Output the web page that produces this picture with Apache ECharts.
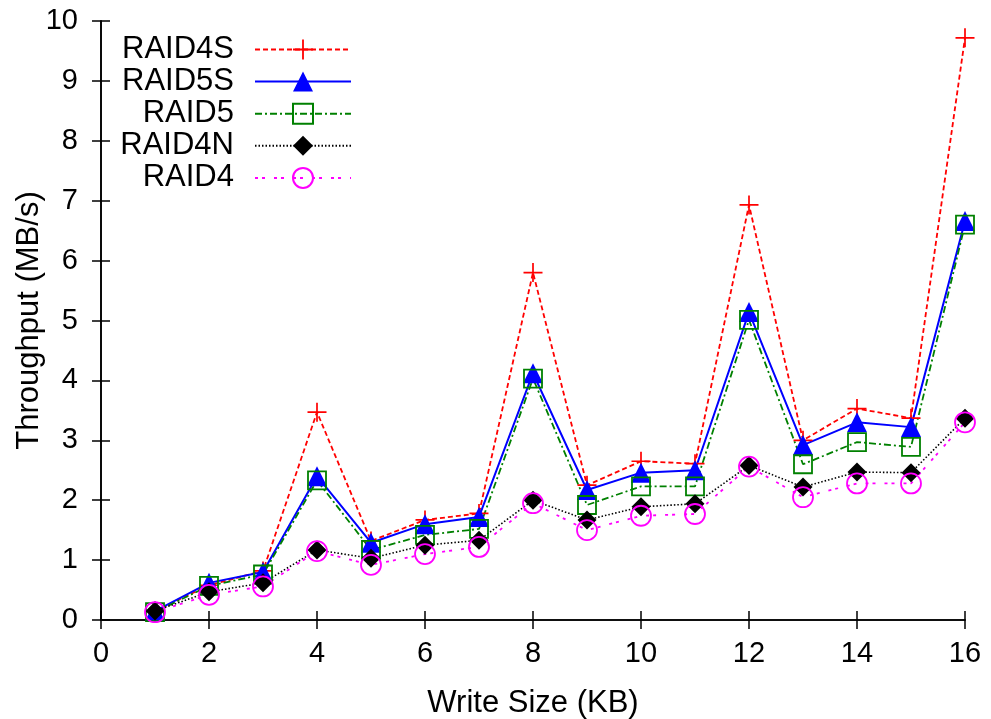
<!DOCTYPE html>
<html><head><meta charset="utf-8">
<script src="https://cdn.jsdelivr.net/npm/echarts@6/dist/echarts.min.js"></script>
<style>html,body{margin:0;padding:0;background:#fff}#c{width:991px;height:719px}</style>
</head><body><div id="c"></div>
<script>
const writeSizes = [1,2,3,4,5,6,7,8,9,10,11,12,13,14,15,16];
const raid4s = [0.15,0.58,0.82,3.47,1.32,1.67,1.78,5.8,2.25,2.65,2.61,6.93,3.0,3.53,3.37,9.72];
const raid5s = [0.15,0.62,0.8,2.4,1.29,1.6,1.72,4.12,2.17,2.46,2.5,5.14,2.92,3.3,3.22,6.66];
const raid5  = [0.13,0.57,0.76,2.33,1.17,1.42,1.52,4.03,1.92,2.23,2.23,5.01,2.6,2.97,2.89,6.6];
const raid4n = [0.15,0.47,0.62,1.17,1.03,1.25,1.33,2.0,1.67,1.89,1.94,2.58,2.22,2.47,2.46,3.37];
const raid4  = [0.13,0.42,0.56,1.15,0.92,1.1,1.22,1.95,1.5,1.74,1.77,2.56,2.05,2.28,2.28,3.3];
const seriesNames = ['RAID4S','RAID5S','RAID5','RAID4N','RAID4'];
const xTicks = [0,2,4,6,8,10,12,14,16];
const yTicks = [0,1,2,3,4,5,6,7,8,9,10];

const pts = arr => writeSizes.map((x,i)=>[x, arr[i]]);
const FONT = 'Liberation Sans, Arial, sans-serif';
const crossPath = 'path://M9.1,0 L10.9,0 L10.9,9.1 L20,9.1 L20,10.9 L10.9,10.9 L10.9,20 L9.1,20 L9.1,10.9 L0,10.9 L0,9.1 L9.1,9.1 Z';

const axisLine = {show:true, lineStyle:{color:'#000', width:1.6}};
const tick = {show:true, inside:true, length:9, lineStyle:{color:'#000', width:1.5}};

const chart = echarts.init(document.getElementById('c'), null, {renderer:'canvas'});
chart.setOption({
  animation:false,
  backgroundColor:'#fff',
  textStyle:{fontFamily:FONT},
  grid:{left:101, right:26, top:21, bottom:99, containLabel:false, outerBoundsMode:'none'},
  legend:{
    orient:'vertical', align:'right', right:639, top:34, padding:0,
    itemWidth:96, itemHeight:25, itemGap:1.1,
    textStyle:{fontSize:31, color:'#000', fontFamily:FONT, padding:[0,16,0,0]},
    data:seriesNames
  },
  xAxis:[{
    type:'value', min:xTicks[0], max:xTicks[xTicks.length-1], interval:2,
    axisLine:axisLine, axisTick:tick, splitLine:{show:false},
    axisLabel:{fontSize:29, color:'#000', margin:19, fontFamily:FONT},
    name:'Write Size (KB)', nameLocation:'middle', nameGap:68, nameMoveOverlap:false,
    nameTextStyle:{fontSize:31, color:'#000', fontFamily:FONT}
  },{
    type:'value', position:'top', min:0, max:16, interval:2,
    axisLine:axisLine, axisTick:tick, axisLabel:{show:false}, splitLine:{show:false}
  }],
  yAxis:[{
    type:'value', min:yTicks[0], max:yTicks[yTicks.length-1], interval:1,
    axisLine:axisLine, axisTick:tick, splitLine:{show:false},
    axisLabel:{fontSize:29, color:'#000', margin:23, fontFamily:FONT},
    name:'Throughput (MB/s)', nameLocation:'middle', nameGap:56, nameMoveOverlap:false,
    nameTextStyle:{fontSize:31, color:'#000', fontFamily:FONT}
  },{
    type:'value', position:'right', min:0, max:10, interval:1,
    axisLine:axisLine, axisTick:tick, axisLabel:{show:false}, splitLine:{show:false}
  }],
  series:[
    {name:'RAID4S', type:'line', data:pts(raid4s), symbol:crossPath, symbolSize:19,
     itemStyle:{color:'#ff0000'}, lineStyle:{color:'#ff0000', width:1.8, type:[5,3]}},
    {name:'RAID5S', type:'line', data:pts(raid5s), symbol:'triangle', symbolSize:20,
     itemStyle:{color:'#0000ff'}, lineStyle:{color:'#0000ff', width:2, type:'solid'}},
    {name:'RAID5', type:'line', data:pts(raid5), symbol:'rect', symbolSize:18,
     itemStyle:{color:'rgba(0,0,0,0)', borderColor:'#008000', borderWidth:1.8},
     lineStyle:{color:'#008000', width:1.8, type:[7,3,2,3]}},
    {name:'RAID4N', type:'line', data:pts(raid4n), symbol:'diamond', symbolSize:[19,19],
     itemStyle:{color:'#000000'}, lineStyle:{color:'#000000', width:1.6, type:[1.5,2]}},
    {name:'RAID4', type:'line', data:pts(raid4), symbol:'circle', symbolSize:20,
     itemStyle:{color:'rgba(0,0,0,0)', borderColor:'#ff00ff', borderWidth:1.8},
     lineStyle:{color:'#ff00ff', width:1.8, type:[3,4,3,9]}}
  ]
});
</script></body></html>
